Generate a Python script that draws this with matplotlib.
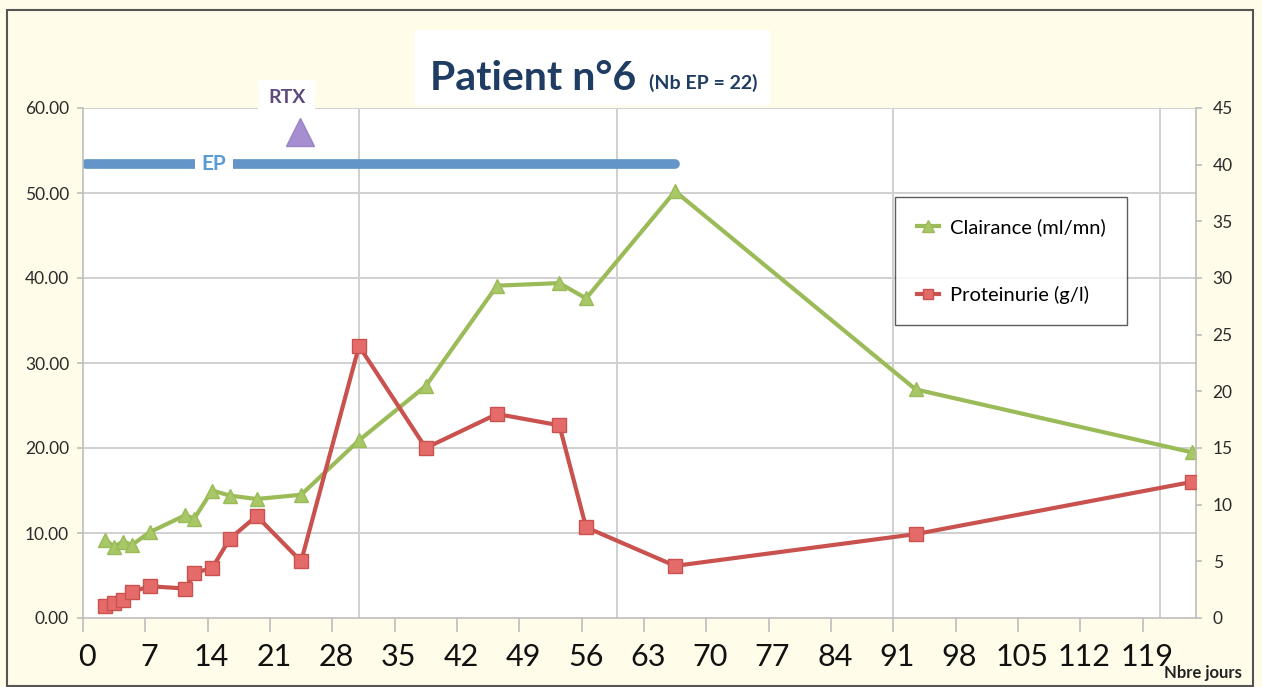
import matplotlib
matplotlib.use("agg")
import matplotlib.pyplot as plt
import matplotlib.transforms as mtransforms
from matplotlib.patches import Rectangle
from matplotlib.lines import Line2D

plt.rcParams['font.family'] = ['Lato', 'DejaVu Sans']

# données
jours = [2.5, 3.5, 4.5, 5.5, 7.5, 11.5, 12.5, 14.5, 16.5, 19.5, 24.5,
         31, 38.5, 46.5, 53.5, 56.5, 66.5, 93.5, 124.5]
clairance = [9.2, 8.4, 9.0, 8.6, 10.1, 12.1, 11.7, 15.0, 14.4, 14.0, 14.5,
             20.9, 27.3, 39.1, 39.4, 37.6, 50.2, 26.9, 19.5]
proteinurie = [1.1, 1.3, 1.6, 2.3, 2.8, 2.6, 4.0, 4.4, 7.0, 9.0, 5.0,
               24.0, 15.0, 18.0, 17.0, 8.0, 4.6, 7.4, 12.0]
xticks = list(range(0, 120, 7))
grille_x = [31, 60, 91, 121]
ep_debut, ep_fin, ep_niveau = 0.3, 66.5, 53.4
rtx_jour, rtx_niveau = 24.4, 57.2

W, H = 1262, 687
fig = plt.figure(figsize=(W / 100, H / 100), dpi=100)
fig.patch.set_facecolor('#fffde9')

# cadre extérieur
fig.add_artist(Rectangle((7 / W, 1 - 686 / H), 1246 / W, 676 / H,
                         transform=fig.transFigure, fill=False,
                         edgecolor='#555555', lw=1.5))
# fond blanc du titre
fig.add_artist(Rectangle((415 / W, 1 - 105 / H), 355 / W, 75 / H,
                         transform=fig.transFigure, facecolor='white',
                         edgecolor='none'))

ax = fig.add_axes([83 / W, 1 - 618 / H, 1113 / W, 510 / H])
ax.set_facecolor('white')
ax.set_xlim(0, 125)
ax.set_ylim(0, 60)
ax.set_yticks(range(0, 61, 10))
ax.set_yticklabels([f"{v:.2f}" for v in range(0, 61, 10)])
ax.set_xticks(xticks)
ax.set_xticklabels([str(v) for v in xticks])
for g in grille_x:
    ax.axvline(g, color='#d0d0d0', lw=1.4, zorder=0)
for v in range(10, 61, 10):
    ax.axhline(v, color='#d0d0d0', lw=1.4, zorder=0)

for s in ['top', 'right']:
    ax.spines[s].set_visible(False)
for s in ['left', 'bottom']:
    ax.spines[s].set_color('#bdbdbd')
    ax.spines[s].set_linewidth(1.2)
ax.tick_params(axis='x', length=10, color='#bdbdbd', width=1.2,
               labelsize=22, pad=8, labelcolor='#111111')
ax.tick_params(axis='y', length=4, color='#bdbdbd', width=1.2,
               labelsize=12.5, pad=6, labelcolor='#2a2a2a')
decal = mtransforms.ScaledTranslation(4 / 100, 0, fig.dpi_scale_trans)
for lab in ax.get_xticklabels():
    lab.set_transform(lab.get_transform() + decal)

ax.plot(jours, clairance, color='#9bbb59', lw=3, marker='^', ms=9.5,
        mfc='#a8c868', mec='#9bbb59', zorder=3)

# barre EP
ax.plot([ep_debut, ep_fin], [ep_niveau, ep_niveau], color='#6495c9', lw=7,
        solid_capstyle='round', zorder=2)
ax.text(14.7, ep_niveau, 'EP', ha='center', va='center', fontsize=15,
        fontweight='bold', color='#5b9bd5', zorder=4,
        bbox=dict(boxstyle='square,pad=0.3', fc='white', ec='none'))

# RTX
ax.plot([rtx_jour], [rtx_niveau], marker='^', ms=20, mfc='#a68fd0',
        mec='#9a84c6', zorder=4, clip_on=False)
ax.text(22.9, 61.2, 'RTX', ha='center', va='center', fontsize=14,
        fontweight='bold', color='#5e4b7d', zorder=4, clip_on=False,
        bbox=dict(boxstyle='square,pad=0.5', fc='white', ec='none'))

ax2 = ax.twinx()
ax2.set_ylim(0, 45)
ax2.set_yticks(range(0, 46, 5))
for s in ['top', 'left', 'bottom']:
    ax2.spines[s].set_visible(False)
ax2.spines['right'].set_color('#bdbdbd')
ax2.spines['right'].set_linewidth(1.2)
ax2.tick_params(axis='y', length=4, color='#bdbdbd', width=1.2,
                labelsize=12.5, pad=8, labelcolor='#2a2a2a')
ax2.plot(jours, proteinurie, color='#c9524f', lw=3, marker='s', ms=9.5,
         mfc='#e46b69', mec='#c9524f', zorder=3)

# légende
h1 = Line2D([], [], color='#9bbb59', lw=3, marker='^', ms=8,
            mfc='#a8c868', mec='#9bbb59')
h2 = Line2D([], [], color='#c9524f', lw=3, marker='s', ms=7,
            mfc='#e46b69', mec='#c9524f')
leg = ax2.legend([h1, h2], ['Clairance (ml/mn)', 'Proteinurie (g/l)'],
                 loc='upper left', bbox_to_anchor=(0.730, 0.826),
                 fontsize=14.5, frameon=True, fancybox=False,
                 labelspacing=2.5, handlelength=1.1, handletextpad=0.55,
                 borderpad=1.05, borderaxespad=0)
leg.get_frame().set_edgecolor('#333333')
leg.get_frame().set_linewidth(1.0)

# titre
fig.text(430 / W, 1 - 90 / H, 'Patient n°6', fontsize=29.5, fontweight='bold',
         color='#1f3c63', ha='left', va='baseline')
fig.text(649 / W, 1 - 89 / H, '(Nb EP = 22)', fontsize=14, fontweight='bold',
         color='#1f3c63', ha='left', va='baseline')

fig.text(1203 / W, 1 - 673 / H, 'Nbre jours', fontsize=12, fontweight='bold',
         color='#222222', ha='center', va='center')

fig.savefig('out.png', dpi=100, facecolor=fig.get_facecolor())
